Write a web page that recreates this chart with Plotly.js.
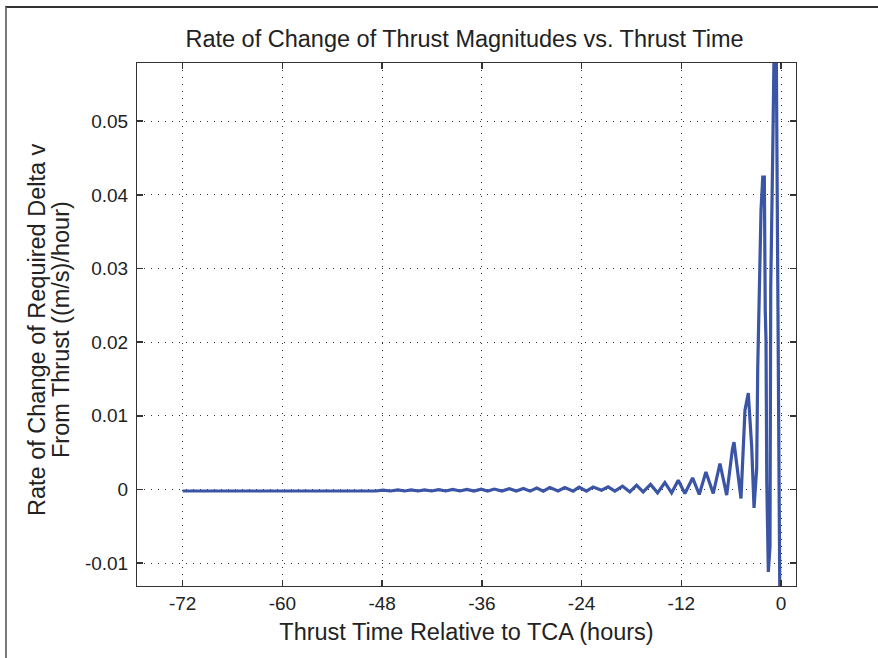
<!DOCTYPE html>
<html>
<head>
<meta charset="utf-8">
<script src="https://cdn.plot.ly/plotly-3.0.1.min.js"></script>
<style>
  html, body { margin: 0; padding: 0; background: #fff; }
  #wrap { position: relative; width: 878px; height: 658px; overflow: hidden; }
  #chart { position: absolute; left: 0; top: 0; width: 878px; height: 658px; }
  #frame { position: absolute; left: 5px; top: 6px; width: 880px; height: 660px;
           border-left: 2px solid #7a7a7a; border-top: 2px solid #333; pointer-events: none; }
</style>
</head>
<body>
<div id="wrap">
  <div id="chart"></div>
  <div id="frame"></div>
</div>
<script>
// Thrust time relative to TCA (hours)
const thrustTime = [
  -72, -60, -50.5,
  -49.6, -48.75, -47.9, -47.0, -46.1, -45.3, -44.5, -43.7, -42.9, -42.05,
  -41.2, -40.35, -39.5, -38.65, -37.8, -36.95, -36.1, -35.3, -34.5, -33.6,
  -32.7, -31.85, -31.0, -30.2, -29.4, -28.6,
  -27.83, -26.83, -26.02, -25.02, -24.30, -23.41, -22.61, -21.60, -20.81, -20.0,
  -19.07, -18.19, -17.39, -16.59, -15.70, -14.86, -13.98, -13.17, -12.37, -11.57,
  -10.64, -9.84, -9.04, -8.16, -7.35, -6.54, -5.85, -5.66, -4.82,
  -4.34, -3.94, -3.53, -3.25, -2.93, -2.81, -2.65, -2.41, -2.20, -2.01, -1.90,
  -1.81, -1.72, -1.53, -1.33, -1.24, -1.00, -0.66, -0.06
];
// Rate of change of required delta-v from thrust ((m/s)/hour)
const rateOfChange = [
  -0.0002, -0.0002, -0.0002,
  -0.0001, -0.0002, -0.00008, -0.0002, -0.00006, -0.0002, -0.00005, -0.0002, -0.00004, -0.0002,
  -0.00002, -0.0002, 0.0, -0.0002, 0.00002, -0.0002, 0.00004, -0.0002, 0.00006, -0.00021,
  0.0001, -0.00021, 0.00014, -0.00022, 0.0002, -0.00022,
  0.00027, -0.00019, 0.00027, -0.00023, 0.00031, -0.00023, 0.00035, -0.0001, 0.00035, -0.00023,
  0.00045, -0.00033, 0.00058, -0.00033, 0.00068, -0.00046, 0.00095, -0.00046, 0.00126, -0.00054,
  0.00157, -0.00068, 0.00239, -0.00054, 0.00353, -0.00077, 0.0055, 0.00642, -0.00122,
  0.01077, 0.0131, 0.00574, -0.0025, 0.0029, 0.0162, 0.0256, 0.0379, 0.0424, 0.0424, 0.0243,
  0.0203, 0.0013, -0.0112, -0.0078, 0.0275, 0.0457, 0.075, -0.03
];
const xTicks = [-72, -60, -48, -36, -24, -12, 0];
const yTicks = [-0.01, 0, 0.01, 0.02, 0.03, 0.04, 0.05];
const yTickLabels = ['-0.01', '0', '0.01', '0.02', '0.03', '0.04', '0.05'];
const yTitleLines = ['Rate of Change of Required Delta v', 'From Thrust ((m/s)/hour)'];

const fontFamily = 'Liberation Sans, Arial, Helvetica, sans-serif';
const titleFont = { family: fontFamily, size: 23.5, color: '#222' };

const trace = {
  x: thrustTime,
  y: rateOfChange,
  type: 'scatter',
  mode: 'lines',
  line: { color: '#3a54a6', width: 3.2 },
  hoverinfo: 'x+y'
};

const axisCommon = {
  showline: true, linecolor: '#333', linewidth: 1, mirror: 'ticks',
  ticks: 'inside', ticklen: 6, tickwidth: 1.5, tickcolor: '#333',
  showgrid: true, gridcolor: '#333', gridwidth: 1, griddash: '1px,6px',
  zeroline: false,
  tickfont: { family: fontFamily, size: 19, color: '#222' }
};

const layout = {
  width: 878, height: 658,
  margin: { l: 137, r: 82, t: 63, b: 72 },
  paper_bgcolor: '#ffffff', plot_bgcolor: '#ffffff',
  showlegend: false,
  title: {
    text: 'Rate of Change of Thrust Magnitudes vs. Thrust Time',
    font: titleFont,
    x: 0.497, xref: 'paper', y: 1 - 39 / 658, yref: 'container', yanchor: 'middle'
  },
  xaxis: Object.assign({}, axisCommon, {
    range: [-77.5, 1.8],
    tickmode: 'array', tickvals: xTicks, ticktext: xTicks.map(String),
    title: { text: 'Thrust Time Relative to TCA (hours)', standoff: 10, font: titleFont }
  }),
  yaxis: Object.assign({}, axisCommon, {
    range: [-0.0131, 0.0579],
    tickmode: 'array', tickvals: yTicks, ticktext: yTickLabels,
    ticklabelstandoff: 4
  }),
  annotations: [
    { text: yTitleLines[0], xref: 'paper', yref: 'paper', x: (37 - 137) / 659, y: 0.4895,
      xanchor: 'center', yanchor: 'middle', textangle: -90, showarrow: false, font: titleFont },
    { text: yTitleLines[1], xref: 'paper', yref: 'paper', x: (61 - 137) / 659, y: 0.4895,
      xanchor: 'center', yanchor: 'middle', textangle: -90, showarrow: false, font: titleFont }
  ]
};

Plotly.newPlot('chart', [trace], layout, { displayModeBar: false, staticPlot: true });
</script>
</body>
</html>
